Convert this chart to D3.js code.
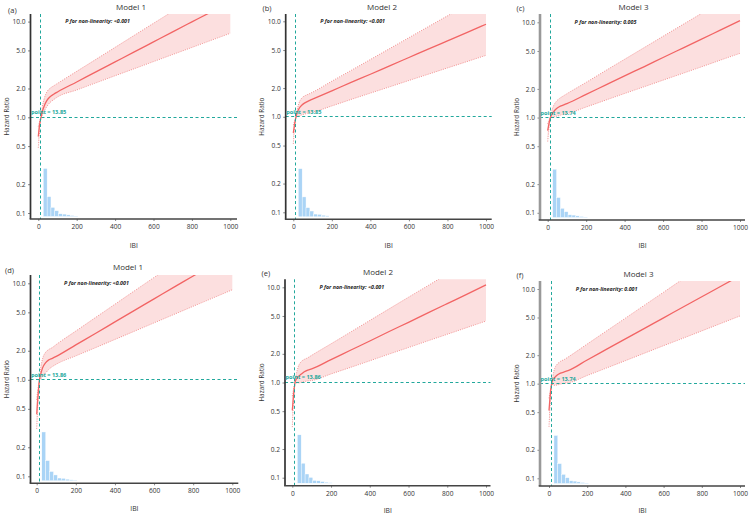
<!DOCTYPE html>
<html><head><meta charset="utf-8">
<script src="https://cdn.jsdelivr.net/npm/d3@7"></script>
<style>
html,body{margin:0;padding:0;background:#fff;}
svg{display:block;font-family:"Open Sans","Noto Sans",sans-serif;}
</style></head>
<body>
<svg id="chart" width="753" height="515"></svg>
<script>
// ---------------- data ----------------
const xVals = [0, 5, 10, 14, 20, 30, 45, 60, 80, 100, 200, 300, 400, 500, 600, 700, 800, 900, 1000];

const hrA = [0.63, 0.78, 0.91, 1.0, 1.13, 1.30, 1.50, 1.63, 1.74, 1.84, 2.34, 2.98, 3.79, 4.82, 6.14, 7.82, 9.93, 12.6, 16.1];
const loA = [0.48, 0.65, 0.85, 1.0, 1.04, 1.15, 1.30, 1.42, 1.53, 1.63, 1.93, 2.29, 2.72, 3.22, 3.82, 4.53, 5.37, 6.37, 7.55];
const upA = [0.80, 0.88, 0.96, 1.0, 1.25, 1.55, 1.85, 2.00, 2.13, 2.26, 3.02, 4.03, 5.38, 7.19, 9.60, 12.8, 17.1, 22.8, 30.5];

const hrB = [0.68, 0.79, 0.91, 1.0, 1.10, 1.22, 1.33, 1.40, 1.47, 1.53, 1.87, 2.29, 2.79, 3.42, 4.18, 5.11, 6.24, 7.62, 9.31];
const loB = [0.52, 0.70, 0.88, 1.0, 1.01, 1.02, 1.05, 1.07, 1.10, 1.12, 1.30, 1.52, 1.77, 2.06, 2.40, 2.79, 3.25, 3.78, 4.40];
const upB = [0.82, 0.88, 0.95, 1.0, 1.18, 1.40, 1.58, 1.66, 1.73, 1.81, 2.36, 3.06, 3.98, 5.18, 6.74, 8.77, 11.4, 14.8, 19.3];

const hrC = [0.73, 0.83, 0.93, 1.0, 1.07, 1.15, 1.24, 1.30, 1.35, 1.40, 1.75, 2.19, 2.74, 3.41, 4.27, 5.33, 6.65, 8.32, 10.4];
const loC = [0.56, 0.72, 0.89, 1.0, 1.0, 1.01, 1.03, 1.05, 1.08, 1.10, 1.29, 1.52, 1.79, 2.10, 2.47, 2.90, 3.41, 4.02, 4.72];
const upC = [0.86, 0.92, 0.97, 1.0, 1.15, 1.32, 1.48, 1.58, 1.68, 1.78, 2.34, 3.10, 4.09, 5.40, 7.13, 9.40, 12.4, 16.4, 21.6];

const hrD = [0.44, 0.62, 0.82, 1.0, 1.13, 1.33, 1.50, 1.60, 1.67, 1.75, 2.30, 3.02, 3.98, 5.24, 6.89, 9.07, 11.9, 15.7, 20.7];
const loD = [0.31, 0.50, 0.76, 1.0, 1.02, 1.08, 1.17, 1.27, 1.37, 1.45, 1.77, 2.15, 2.62, 3.19, 3.89, 4.74, 5.78, 7.03, 8.57];
const upD = [0.62, 0.77, 0.90, 1.0, 1.30, 1.65, 1.92, 2.05, 2.16, 2.32, 3.20, 4.41, 6.07, 8.36, 11.5, 15.9, 21.9, 30.1, 41.5];

const hrE = [0.51, 0.68, 0.86, 1.0, 1.08, 1.15, 1.22, 1.29, 1.35, 1.39, 1.74, 2.18, 2.73, 3.43, 4.29, 5.38, 6.74, 8.44, 10.6];
const loE = [0.34, 0.55, 0.80, 1.0, 0.99, 0.99, 1.0, 1.02, 1.04, 1.05, 1.23, 1.44, 1.69, 1.99, 2.33, 2.74, 3.21, 3.77, 4.42];
const upE = [0.72, 0.82, 0.93, 1.0, 1.20, 1.45, 1.65, 1.74, 1.82, 1.93, 2.55, 3.38, 4.48, 5.94, 7.87, 10.4, 13.8, 18.3, 24.3];

const hrF = [0.52, 0.70, 0.88, 1.0, 1.10, 1.16, 1.24, 1.29, 1.33, 1.37, 1.78, 2.30, 2.97, 3.84, 4.96, 6.41, 8.28, 10.7, 13.8];
const loF = [0.35, 0.55, 0.80, 1.0, 0.97, 0.96, 0.97, 0.99, 1.01, 1.02, 1.22, 1.46, 1.75, 2.10, 2.52, 3.01, 3.61, 4.33, 5.19];
const upF = [0.70, 0.81, 0.92, 1.0, 1.20, 1.45, 1.62, 1.72, 1.80, 1.91, 2.62, 3.59, 4.92, 6.75, 9.25, 12.7, 17.3, 23.8, 32.6];

// histogram of IBI (bin start, relative frequency)
const histStart = [26, 46, 66, 86, 106, 126, 146, 166, 186];
const histFreq  = [0.30, 0.124, 0.057, 0.036, 0.017, 0.015, 0.010, 0.006, 0.003];
const histWidth = 20;

const yTicks = [0.1, 0.2, 0.5, 1.0, 2.0, 5.0, 10.0];
const yTickLabels = ["0.1", "0.2", "0.5", "1.0", "2.0", "5.0", "10.0"];
const xTicks = [0, 200, 400, 600, 800, 1000];

const panelTags   = ["(a)", "(b)", "(c)", "(d)", "(e)", "(f)"];
const panelTitles = ["Model 1", "Model 2", "Model 3", "Model 1", "Model 2", "Model 3"];
const pNonlin     = ["P for non-linearity: <0.001", "P for non-linearity: <0.001", "P for non-linearity: 0.005",
                     "P for non-linearity: <0.001", "P for non-linearity: <0.001", "P for non-linearity: 0.001"];
const refPoints   = [13.85, 13.85, 13.74, 13.86, 13.86, 13.74];
const series = [[hrA, loA, upA], [hrB, loB, upB], [hrC, loC, upC], [hrD, loD, upD], [hrE, loE, upE], [hrF, loF, upF]];

// ---------------- layout ----------------
const layout = [
  {x0: 38.3, x1: 230.3, y10: 21.6, y01: 213.0, left: 30.5, right: 237, top: 14, bottom: 219, tagX: 8, tagY: 10, titleX: 131, titleY: 7, labY: 245.7, axCol: "#333", axW: 1.7},
  {x0: 293.3, x1: 486.0, y10: 21.3, y01: 212.3, left: 285.7, right: 491.7, top: 14, bottom: 219.3, tagX: 262.5, tagY: 8, titleX: 382, titleY: 7, labY: 245.3, axCol: "#333", axW: 1.7},
  {x0: 547.7, x1: 740.0, y10: 22.3, y01: 212.8, left: 540, right: 745, top: 14, bottom: 220, tagX: 516.5, tagY: 8, titleX: 633.5, titleY: 7, labY: 245.7, axCol: "#999", axW: 2.6},
  {x0: 36.7, x1: 232.3, y10: 283.3, y01: 476.3, left: 30.5, right: 238.3, top: 275, bottom: 483.3, tagX: 5, tagY: 270, titleX: 128, titleY: 267.5, labY: 508.3, axCol: "#333", axW: 1.7},
  {x0: 292.3, x1: 486.0, y10: 287.3, y01: 477.7, left: 285, right: 490.5, top: 279.3, bottom: 485.7, tagX: 261.5, tagY: 273, titleX: 378, titleY: 272, labY: 510.5, axCol: "#333", axW: 1.7},
  {x0: 549.0, x1: 740.0, y10: 289.0, y01: 478.3, left: 540, right: 745, top: 281, bottom: 486, tagX: 516.5, tagY: 275, titleX: 638.5, titleY: 274.5, labY: 510.5, axCol: "#999", axW: 2.6}
];

const svg = d3.select("#chart");
const teal = "#22a89c";
const red = "#f26464";
const snap = v => Math.round(v - 0.5) + 0.5;

layout.forEach((L, i) => {
  const g = svg.append("g");
  const x = d3.scaleLinear().domain([0, 1000]).range([L.x0, L.x1]);
  const y = d3.scaleLog().domain([0.1, 10]).range([L.y01, L.y10]);
  const plotH = L.bottom - L.top;
  const histBase = L.bottom - 2.5;
  const yh = d3.scaleLinear().domain([0, 1.28]).range([histBase, histBase - plotH]);

  const clipId = "clip" + i;
  svg.append("clipPath").attr("id", clipId)
    .append("rect").attr("x", L.left).attr("y", L.top)
    .attr("width", L.right - L.left).attr("height", L.bottom - L.top);

  const [hr, lo, up] = series[i];
  const pts = xVals.map((v, k) => ({x: v, hr: hr[k], lo: lo[k], up: up[k]}));

  // histogram
  g.append("g").selectAll("rect").data(histStart.map((s, k) => ({s, f: histFreq[k]})))
    .join("rect")
    .attr("x", d => x(d.s)).attr("width", d => x(d.s + histWidth) - x(d.s))
    .attr("y", d => yh(d.f)).attr("height", d => yh(0) - yh(d.f))
    .attr("fill", "#aad4f6").attr("stroke", "#ffffff").attr("stroke-width", 0.4);

  const cg = g.append("g").attr("clip-path", `url(#${clipId})`);
  // confidence band
  cg.append("path").datum(pts)
    .attr("d", d3.area().x(d => x(d.x)).y0(d => y(d.lo)).y1(d => y(d.up)).curve(d3.curveMonotoneX))
    .attr("fill", "#fcdcdc").attr("opacity", 0.9);
  ["lo", "up"].forEach(k => {
    cg.append("path").datum(pts)
      .attr("d", d3.line().x(d => x(d.x)).y(d => y(d[k])).curve(d3.curveMonotoneX))
      .attr("fill", "none").attr("stroke", "#f08a8a").attr("stroke-width", 0.9)
      .attr("stroke-dasharray", "1,1.3");
  });
  // reference lines
  g.append("line").attr("x1", L.left).attr("x2", L.right).attr("y1", snap(y(1))).attr("y2", snap(y(1)))
    .attr("stroke", teal).attr("stroke-width", 1).attr("stroke-dasharray", "3,2.5");
  g.append("line").attr("x1", snap(x(refPoints[i]))).attr("x2", snap(x(refPoints[i]))).attr("y1", L.top).attr("y2", L.bottom)
    .attr("stroke", teal).attr("stroke-width", 1).attr("stroke-dasharray", "3,2.5");
  // main curve
  cg.append("path").datum(pts)
    .attr("d", d3.line().x(d => x(d.x)).y(d => y(d.hr)).curve(d3.curveMonotoneX))
    .attr("fill", "none").attr("stroke", red).attr("stroke-width", 1.3);

  // axes
  const ya = g.append("g").attr("transform", `translate(${L.left},0)`)
    .call(d3.axisLeft(y).tickValues(yTicks).tickFormat((d, k) => yTickLabels[k]).tickSize(2.5).tickPadding(2.5));
  ya.select(".domain").remove();
  ya.selectAll("line").attr("stroke", "#555").attr("stroke-width", 0.7);
  ya.selectAll("text").attr("font-size", 6.6).attr("fill", "#333").attr("font-family", "Open Sans, sans-serif");
  g.append("line").attr("x1", L.left).attr("x2", L.left).attr("y1", L.top).attr("y2", L.bottom)
    .attr("stroke", L.axCol).attr("stroke-width", L.axW);

  const xa = g.append("g").attr("transform", `translate(0,${L.bottom})`)
    .call(d3.axisBottom(x).tickValues(xTicks).tickFormat(d3.format("d")).tickSize(2).tickPadding(3.5));
  xa.select(".domain").remove();
  xa.selectAll("line").attr("stroke", "#555").attr("stroke-width", 0.7);
  xa.selectAll("text").attr("font-size", 6.6).attr("fill", "#333").attr("font-family", "Open Sans, sans-serif");
  g.append("line").attr("x1", L.left - L.axW / 2).attr("x2", L.right).attr("y1", L.bottom).attr("y2", L.bottom)
    .attr("stroke", "#444").attr("stroke-width", 1.4);

  // texts
  g.append("text").attr("x", (L.left + L.right) / 2).attr("y", L.labY).attr("dy", "0.35em")
    .attr("text-anchor", "middle").attr("font-size", 6.8).attr("fill", "#333").text("IBI");
  g.append("text").attr("transform", `translate(${L.left - 21.5},${(L.top + L.bottom) / 2}) rotate(-90)`)
    .attr("text-anchor", "middle").attr("font-size", 6.4).attr("fill", "#333").text("Hazard Ratio");
  g.append("text").attr("x", L.titleX).attr("y", L.titleY).attr("dy", "0.35em")
    .attr("text-anchor", "middle").attr("font-size", 8).attr("fill", "#333").text(panelTitles[i]);
  g.append("text").attr("x", L.tagX).attr("y", L.tagY).attr("dy", "0.35em")
    .attr("font-size", 7.5).attr("fill", "#333").text(panelTags[i]);
  g.append("text").attr("x", x(140)).attr("y", y(10)).attr("dy", "0.35em")
    .attr("font-size", 5.3).attr("font-weight", "bold").attr("font-style", "italic").attr("fill", "#222")
    .text(pNonlin[i]);
  g.append("text").attr("x", L.left + 0.5).attr("y", y(1) - 5).attr("dy", "0.35em")
    .attr("font-size", 5.6).attr("font-weight", "bold").attr("fill", teal)
    .text("point = " + refPoints[i].toFixed(2));
});
</script>
</body></html>
